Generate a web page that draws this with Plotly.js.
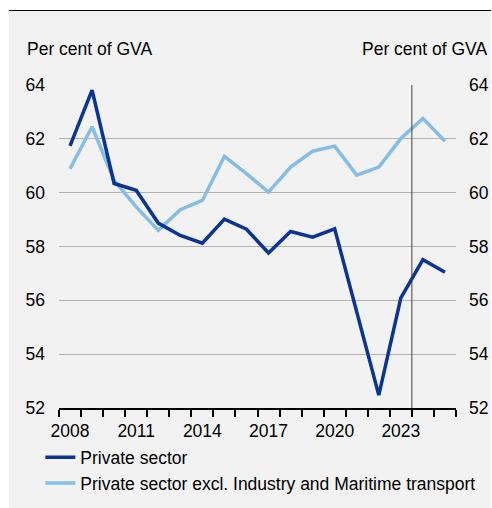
<!DOCTYPE html>
<html>
<head>
<meta charset="utf-8">
<script src="https://cdn.plot.ly/plotly-3.0.1.min.js"></script>
<style>
  html, body { margin: 0; padding: 0; background: #ffffff; }
  #chart { position: absolute; left: 9px; top: 10px; width: 482px; height: 498px; border-top: 1px solid #000; box-sizing: border-box; }
</style>
</head>
<body>
<div id="chart"></div>
<script>
const years = [2008, 2009, 2010, 2011, 2012, 2013, 2014, 2015, 2016, 2017, 2018, 2019, 2020, 2021, 2022, 2023, 2024, 2025];
const privateSector = [61.74, 63.81, 60.34, 60.09, 58.87, 58.41, 58.12, 59.02, 58.64, 57.76, 58.56, 58.35, 58.66, 55.6, 52.48, 56.09, 57.51, 57.04];
const privateExcl = [60.89, 62.45, 60.46, 59.47, 58.6, 59.37, 59.71, 61.35, 60.71, 60.02, 60.95, 61.54, 61.73, 60.65, 60.95, 62.01, 62.76, 61.91];
const seriesNames = ["Private sector", "Private sector excl. Industry and Maritime transport"];
const xTickLabels = ["2008", "2011", "2014", "2017", "2020", "2023"];
const xTickVals = [2008, 2011, 2014, 2017, 2020, 2023];
const yTickVals = [52, 54, 56, 58, 60, 62, 64];
const dividerYear = 2023.5;
const unitLabel = "Per cent of GVA";

const FONT = "Liberation Sans, Arial, sans-serif";
const FS = 17.5;
const minorVals = [];
for (let i = 0; i <= years.length; i++) minorVals.push(years[0] - 0.5 + i);

const traces = [
  { x: years, y: privateExcl, name: seriesNames[1], type: "scatter", mode: "lines",
    line: { color: "#85bde8", width: 3.5 } },
  { x: years, y: privateSector, name: seriesNames[0], type: "scatter", mode: "lines",
    line: { color: "#0a3594", width: 3.5 } }
];

const layout = {
  width: 482, height: 497,
  margin: { l: 50, r: 35, t: 74, b: 100, autoexpand: false },
  paper_bgcolor: "#f2f2f2",
  plot_bgcolor: "#f2f2f2",
  font: { family: FONT, size: FS, color: "#000" },
  showlegend: true,
  legend: {
    orientation: "v", x: -0.047, xanchor: "left", y: -0.097, yanchor: "top",
    bgcolor: "rgba(0,0,0,0)", font: { family: FONT, size: FS }, traceorder: "reversed"
  },
  xaxis: {
    range: [years[0] - 0.5, years[years.length - 1] + 0.5],
    tickmode: "array", tickvals: xTickVals, ticktext: xTickLabels,
    ticks: "", showgrid: false, zeroline: false,
    showline: true, linecolor: "#000", linewidth: 1.5,
    ticklabelstandoff: 6,
    minor: { tickmode: "array", tickvals: minorVals, ticks: "outside", ticklen: 7, tickwidth: 2, tickcolor: "#000", showgrid: false }
  },
  yaxis: {
    range: [52, 64], tickmode: "array", tickvals: yTickVals,
    ticks: "", showgrid: true, gridcolor: "#b3b3b3", gridwidth: 1, zeroline: false,
    showline: false, ticklabelstandoff: 13
  },
  yaxis2: {
    range: [52, 64], tickmode: "array", tickvals: yTickVals, overlaying: "y", side: "right",
    ticks: "", showgrid: false, zeroline: false, showline: false, ticklabelstandoff: 12
  },
  shapes: [
    { type: "line", xref: "x", yref: "y", x0: dividerYear, x1: dividerYear, y0: 52, y1: 64,
      line: { color: "#404040", width: 1 } }
  ],
  annotations: [
    { xref: "paper", yref: "paper", x: 0, y: 1, xanchor: "left", yanchor: "middle",
      xshift: -34, yshift: 36, text: unitLabel, showarrow: false, font: { size: FS } },
    { xref: "paper", yref: "paper", x: 1, y: 1, xanchor: "right", yanchor: "middle",
      xshift: 33, yshift: 36, text: unitLabel, showarrow: false, font: { size: FS } }
  ]
};

// invisible trace to anchor right axis
traces.push({ x: [years[0]], y: [privateSector[0]], yaxis: "y2", type: "scatter", mode: "markers",
  marker: { opacity: 0 }, showlegend: false, hoverinfo: "skip" });

Plotly.newPlot("chart", traces, layout, { displayModeBar: false, staticPlot: true });
</script>
</body>
</html>
